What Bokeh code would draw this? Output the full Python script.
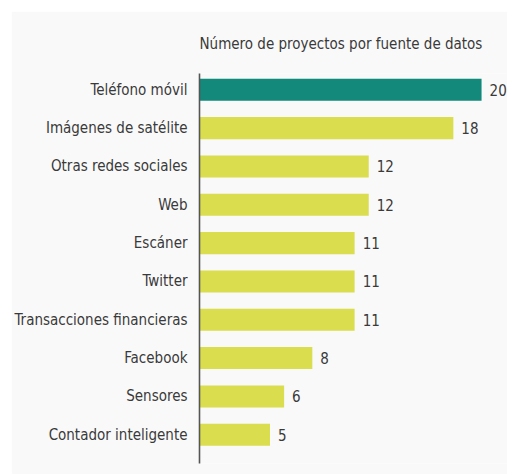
from bokeh.plotting import figure
from bokeh.layouts import row, column
from bokeh.models import Range1d, FixedTicker, ColumnDataSource, Spacer
from bokeh.core.properties import value
from bokeh.embed import file_html
from bokeh.resources import INLINE

categories = ["Teléfono móvil", "Imágenes de satélite", "Otras redes sociales", "Web",
              "Escáner", "Twitter", "Transacciones financieras", "Facebook", "Sensores",
              "Contador inteligente"]
counts = [20, 18, 12, 12, 11, 11, 11, 8, 6, 5]
title_text = "Número de proyectos por fuente de datos"

FONT = "DejaVu Sans Condensed"
TXT = "#3a3a3a"
n = len(categories)
ypos = [n - 1 - i for i in range(n)]
colors = ["#12897A"] + ["#DADD4E"] * (n - 1)

src = ColumnDataSource(dict(y=ypos, v=counts, c=colors, lab=[str(v) for v in counts]))

p = figure(width=496, height=463, output_backend="svg", toolbar_location=None,
           x_range=Range1d(0, 21.84), y_range=Range1d(-0.749, n - 1 + 0.425),
           min_border_left=188, min_border_right=0, min_border_top=62, min_border_bottom=11,
           background_fill_color="#f9f9f9", border_fill_color="#f9f9f9",
           outline_line_color=None)

p.hbar(y="y", right="v", left=0, height=0.574, fill_color="c", line_color=None, source=src)
p.text(x="v", y="y", text="lab", x_offset=8, text_baseline="middle", text_align="left",
       text_font=value(FONT), text_font_size="15px", text_color=TXT, source=src)

p.xaxis.visible = False
p.xgrid.visible = False
p.ygrid.visible = False

yax = p.yaxis[0]
yax.ticker = FixedTicker(ticks=ypos)
yax.major_label_overrides = {y: c for y, c in zip(ypos, categories)}
yax.major_tick_line_color = None
yax.minor_tick_line_color = None
yax.axis_line_color = "#555555"
yax.axis_line_width = 1.6
yax.major_label_standoff = 6
yax.major_label_text_font = FONT
yax.major_label_text_font_size = "15px"
yax.major_label_text_color = TXT

p.title.text = title_text
p.title.align = "left"
p.title.text_font = FONT
p.title.text_font_size = "15px"
p.title.text_font_style = "normal"
p.title.text_color = TXT
p.title.standoff = 41

layout = row(Spacer(width=11, height=474),
             column(Spacer(width=496, height=11), p))

open("out.html", "w").write(file_html(layout, INLINE))
